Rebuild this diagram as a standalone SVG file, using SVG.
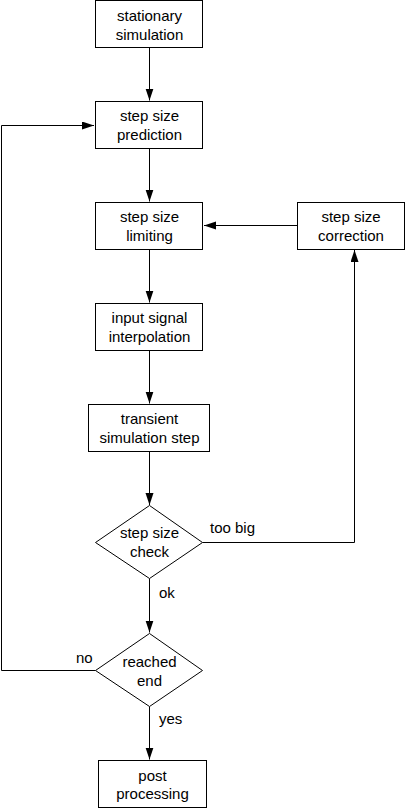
<svg xmlns="http://www.w3.org/2000/svg" width="405" height="809" viewBox="0 0 405 809">
<style>
.n{fill:#fff;stroke:#000;stroke-width:1}
.t{font-family:"Liberation Sans",Arial,sans-serif;font-size:15px;fill:#000;text-anchor:middle}
.l{font-family:"Liberation Sans",Arial,sans-serif;font-size:15px;fill:#000}
.c{fill:none;stroke:#000;stroke-width:1}
</style>
<defs>
<marker id="ah" markerUnits="userSpaceOnUse" markerWidth="13" markerHeight="9" refX="12" refY="4" orient="auto">
<path d="M0,0 L12,4 L0,8 z" fill="#000"/>
</marker>
</defs>
<rect width="405" height="809" fill="#fff"/>
<g id="connectors">
<line class="c" x1="149.5" y1="47" x2="149.5" y2="100.5" marker-end="url(#ah)"/>
<line class="c" x1="149.5" y1="148" x2="149.5" y2="201.5" marker-end="url(#ah)"/>
<line class="c" x1="149.5" y1="249" x2="149.5" y2="302.5" marker-end="url(#ah)"/>
<line class="c" x1="149.5" y1="350" x2="149.5" y2="403.5" marker-end="url(#ah)"/>
<line class="c" x1="149.5" y1="451" x2="149.5" y2="505" marker-end="url(#ah)"/>
<line class="c" x1="149.5" y1="578.5" x2="149.5" y2="632.5" marker-end="url(#ah)"/>
<line class="c" x1="149.5" y1="706.5" x2="149.5" y2="759.5" marker-end="url(#ah)"/>
<polyline class="c" points="95.5,670.5 1.5,670.5 1.5,125.5 94,125.5" marker-end="url(#ah)"/>
<polyline class="c" points="202.5,542.5 354.5,542.5 354.5,250" marker-end="url(#ah)"/>
<line class="c" x1="297" y1="225.5" x2="204" y2="225.5" marker-end="url(#ah)"/>
<text class="l" x="210" y="533">too big</text>
<text class="l" x="159" y="598">ok</text>
<text class="l" x="76" y="663">no</text>
<text class="l" x="159" y="724">yes</text>
</g>
<g id="stationary">
<rect class="n" x="95.5" y="0.5" width="107" height="47"/>
<text class="t" x="149.5" y="20.5">stationary</text>
<text class="t" x="149.5" y="39.5">simulation</text>
</g>
<g id="prediction">
<rect class="n" x="95.5" y="101.5" width="107" height="47"/>
<text class="t" x="149.5" y="120.5">step size</text>
<text class="t" x="149.5" y="139.5">prediction</text>
</g>
<g id="limiting">
<rect class="n" x="95.5" y="202.5" width="107" height="47"/>
<text class="t" x="149.5" y="222">step size</text>
<text class="t" x="149.5" y="240.5">limiting</text>
</g>
<g id="correction">
<rect class="n" x="297.5" y="202.5" width="107" height="47"/>
<text class="t" x="351" y="222">step size</text>
<text class="t" x="351" y="240.5">correction</text>
</g>
<g id="interpolation">
<rect class="n" x="95.5" y="303.5" width="107" height="47"/>
<text class="t" x="149.5" y="323">input signal</text>
<text class="t" x="149.5" y="341.5">interpolation</text>
</g>
<g id="transient">
<rect class="n" x="88.5" y="404.5" width="121" height="47"/>
<text class="t" x="149.5" y="424">transient</text>
<text class="t" x="149.5" y="442.5">simulation step</text>
</g>
<g id="check">
<polygon class="n" points="149.5,505.5 202.5,542.5 149.5,578.5 95.5,542.5"/>
<text class="t" x="149.5" y="538">step size</text>
<text class="t" x="149.5" y="557">check</text>
</g>
<g id="reached">
<polygon class="n" points="149.5,633.5 202.5,670.5 149.5,706.5 95.5,670.5"/>
<text class="t" x="149.5" y="667">reached</text>
<text class="t" x="149.5" y="685.5">end</text>
</g>
<g id="post">
<rect class="n" x="98.5" y="760.5" width="108" height="47"/>
<text class="t" x="152.5" y="780.5">post</text>
<text class="t" x="152.5" y="799">processing</text>
</g>
</svg>
